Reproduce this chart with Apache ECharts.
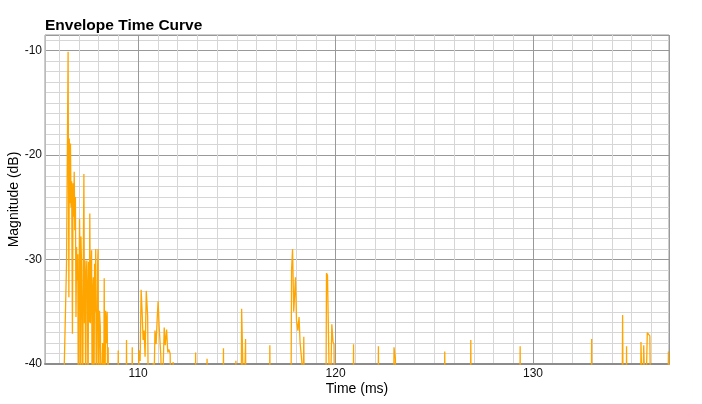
<!DOCTYPE html>
<html>
<head>
<meta charset="utf-8">
<script src="https://cdn.jsdelivr.net/npm/echarts@6/dist/echarts.min.js"></script>
<style>
  html, body { margin: 0; padding: 0; background: #fff; }
  #c { width: 702px; height: 404px; }
</style>
</head>
<body>
<div id="c"></div>
<script>
// ---- Data ----
const chartTitle = 'Envelope Time Curve';
const xAxisName = 'Time (ms)';
const yAxisName = 'Magnitude (dB)';
const yTicks = [-40, -30, -20, -10];
const xTicks = [110, 120, 130];

// time in ms
const timeMs = [
  106.20, 106.37, 106.45, 106.49, 106.51, 106.54, 106.57, 106.60, 106.63, 106.67,
  106.70, 106.73, 106.76, 106.79, 106.82, 106.85, 106.88, 106.91, 106.94, 106.97,
  107.00, 107.03, 107.06, 107.08, 107.10, 107.13, 107.16, 107.19, 107.22, 107.25,
  107.28, 107.31, 107.34, 107.37, 107.40, 107.43, 107.46, 107.49, 107.52, 107.55,
  107.58, 107.61, 107.64, 107.67, 107.70, 107.73, 107.76, 107.79, 107.82, 107.85,
  107.88, 107.92, 107.95, 107.97, 108.00, 108.04, 108.08, 108.11, 108.14, 108.20,
  108.25, 108.28, 108.31, 108.35, 108.39, 108.43, 108.46, 108.48, 108.51,
  108.97, 108.99, 109.01,
  109.39, 109.41, 109.43,
  109.68, 109.70, 109.72,
  110.02, 110.04, 110.10, 110.15, 110.20, 110.25, 110.30, 110.35, 110.41, 110.48, 110.52,
  110.74, 110.76, 110.78,
  110.83, 110.85, 110.91, 110.96, 111.01, 111.06, 111.15, 111.20,
  111.30, 111.32, 111.37, 111.44, 111.50, 111.55, 111.62, 111.66,
  111.75, 111.77, 111.79,
  112.89, 112.91, 112.93,
  113.47, 113.49, 113.51,
  114.30, 114.32, 114.34,
  114.93, 114.95, 114.97,
  115.22, 115.24, 115.30, 115.36,
  115.42, 115.44, 115.46,
  116.65, 116.67, 116.69,
  117.74, 117.77, 117.82, 117.88, 117.97, 118.02, 118.09, 118.15, 118.20, 118.29, 118.34,
  118.37, 118.39, 118.42,
  119.51, 119.54, 119.59, 119.66, 119.72,
  119.79, 119.81, 119.87, 119.92, 119.95,
  120.89, 120.91, 120.93,
  122.15, 122.17, 122.19,
  122.94, 122.96, 123.03, 123.05,
  125.51, 125.53, 125.55,
  126.83, 126.85, 126.87,
  129.33, 129.35, 129.37,
  132.95, 132.97, 132.99,
  134.51, 134.54, 134.57,
  134.72, 134.74, 134.76,
  135.45, 135.47, 135.55, 135.61, 135.70, 135.79, 135.86, 135.92, 135.96,
  136.83, 136.86, 136.95
];

// magnitude in dB (values below -40 are off the bottom of the plot)
const magDb = [
  -45, -30.4, -10.1, -33.6, -18.4, -24.6, -18.9, -25.0, -22.5, -37.1,
  -22.7, -25.9, -21.6, -27.2, -24.0, -35.5, -28.8, -32.0, -29.5, -45,
  -34.0, -26.1, -31.0, -45, -27.8, -30.4, -36.0, -45, -30.2, -21.8,
  -36.1, -30.1, -45, -31.5, -30.1, -33.0, -45, -30.2, -36.0, -25.6,
  -36.1, -31.5, -29.1, -45, -33.0, -31.7, -45, -30.4, -35.0, -29.0,
  -45, -36.3, -30.2, -29.0, -45, -34.9, -36.4, -36.3, -45, -38.0,
  -45, -31.8, -45, -34.9, -38.0, -35.0, -45, -38.4, -45,
  -45, -38.7, -45,
  -45, -37.7, -45,
  -45, -38.4, -45,
  -45, -38.7, -39.7, -32.9, -35.0, -37.7, -36.8, -39.3, -33.0, -35.4, -45,
  -45, -39.9, -45,
  -45, -36.8, -38.1, -35.8, -34.0, -36.3, -39.3, -45,
  -45, -36.5, -38.2, -36.7, -38.9, -38.6, -39.0, -45,
  -45, -39.8, -45,
  -45, -38.9, -45,
  -45, -39.5, -45,
  -45, -38.5, -45,
  -45, -39.7, -45,
  -45, -34.7, -34.6, -45,
  -45, -37.6, -45,
  -45, -38.2, -45,
  -45, -31.0, -29.0, -35.0, -31.7, -35.8, -36.8, -35.5, -37.9, -39.8, -45,
  -45, -37.4, -45,
  -45, -31.3, -31.5, -39.3, -45,
  -45, -36.2, -37.9, -38.1, -45,
  -45, -38.1, -45,
  -45, -38.3, -45,
  -45, -38.4, -39.5, -45,
  -45, -38.8, -45,
  -45, -37.7, -45,
  -45, -38.3, -45,
  -45, -37.6, -45,
  -45, -35.3, -45,
  -45, -38.3, -45,
  -45, -37.9, -45, -38.2, -45, -37.0, -37.0, -37.3, -45,
  -45, -38.8, -45
];

const xMin = 105.28, xMax = 136.89;
const yMin = -40, yMax = -8.5;

const seriesData = timeMs.map((t, i) => [t, magDb[i]]);

const FONT = '"Liberation Sans", Arial, Helvetica, sans-serif';
const chart = echarts.init(document.getElementById('c'), null, { renderer: 'canvas' });
chart.setOption({
  animation: false,
  backgroundColor: '#ffffff',
  title: {
    text: chartTitle,
    left: 45,
    top: 18,
    padding: 0,
    textStyle: { fontFamily: FONT, fontSize: 15.5, fontWeight: 'bold', color: '#000' }
  },
  grid: {
    left: 45, right: 33, top: 35, bottom: 40,
    outerBoundsMode: 'none',
    containLabel: false,
    show: true, borderColor: '#9a9a9a', borderWidth: 1, backgroundColor: 'transparent'
  },
  xAxis: {
    type: 'value',
    min: xMin, max: xMax,
    splitNumber: 3,
    name: xAxisName,
    nameLocation: 'middle',
    nameGap: 18,
    nameMoveOverlap: false,
    nameTextStyle: { fontFamily: FONT, fontSize: 14, color: '#000' },
    axisLine: { show: true, onZero: false, lineStyle: { color: '#8c8c8c', width: 2 } },
    axisTick: { show: false },
    axisLabel: {
      fontFamily: FONT, fontSize: 12, color: '#111', margin: 4,
      showMinLabel: false, showMaxLabel: false,
      formatter: v => (xTicks.indexOf(Math.round(v)) >= 0 && Math.abs(v - Math.round(v)) < 1e-6) ? String(Math.round(v)) : ''
    },
    splitLine: { show: true, lineStyle: { color: '#999', width: 1 } },
    minorTick: { show: false, splitNumber: 10 },
    minorSplitLine: { show: true, lineStyle: { color: '#d6d6d6', width: 1 } }
  },
  yAxis: {
    type: 'value',
    min: yMin, max: yMax,
    interval: 10,
    name: yAxisName,
    nameLocation: 'middle',
    nameGap: 24,
    nameMoveOverlap: false,
    nameRotate: 90,
    nameTextStyle: { fontFamily: FONT, fontSize: 14, color: '#000' },
    axisLine: { show: true, lineStyle: { color: '#bbb', width: 1 } },
    axisTick: { show: false },
    axisLabel: {
      fontFamily: FONT, fontSize: 12, color: '#111', margin: 3,
      showMinLabel: true, showMaxLabel: false,
      formatter: v => (yTicks.indexOf(v) >= 0) ? String(v) : ''
    },
    splitLine: { show: true, lineStyle: { color: '#999', width: 1 } },
    minorTick: { show: false, splitNumber: 10 },
    minorSplitLine: { show: true, lineStyle: { color: '#d6d6d6', width: 1 } }
  },
  series: [{
    type: 'line',
    data: seriesData,
    showSymbol: false,
    symbol: 'none',
    clip: true,
    sampling: null,
    lineStyle: { color: '#FFA500', width: 1.3 },
    itemStyle: { color: '#FFA500' },
    z: 3
  }]
});
</script>
</body>
</html>
